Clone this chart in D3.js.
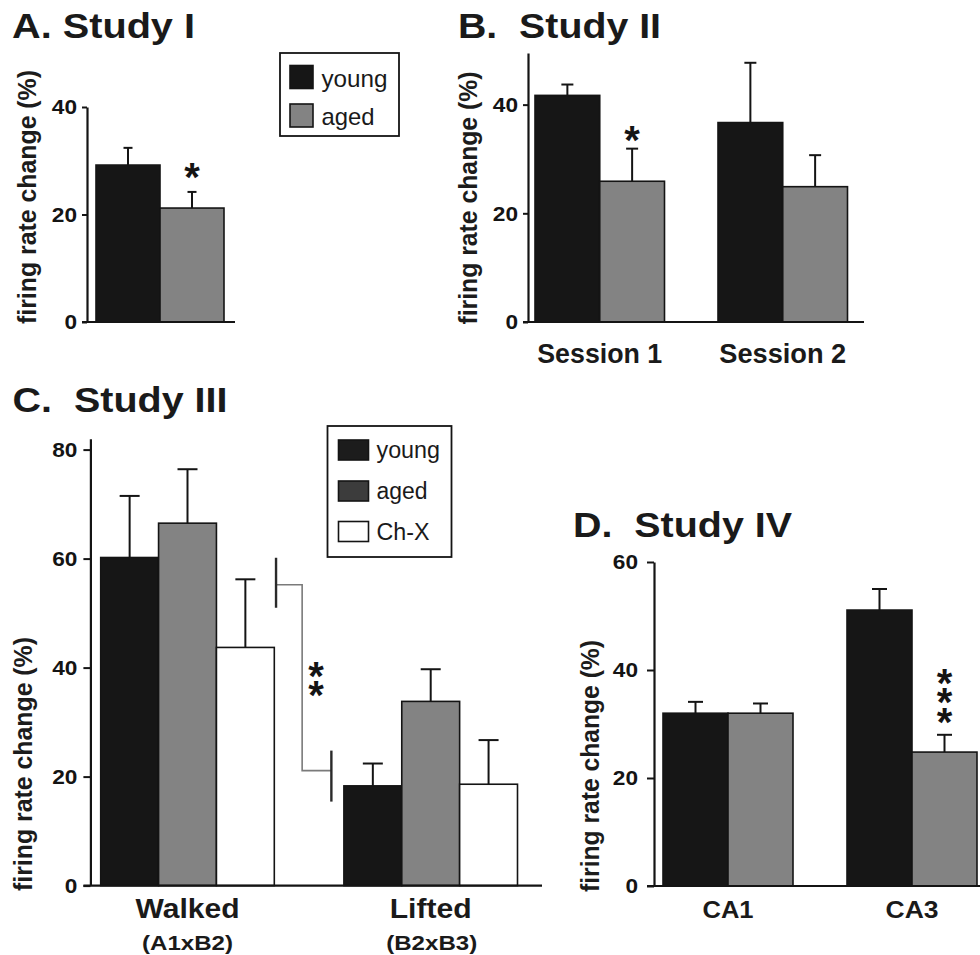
<!DOCTYPE html>
<html><head><meta charset="utf-8">
<script src="https://cdn.jsdelivr.net/npm/d3@7"></script>
<style>
body{margin:0;background:#fff}
svg{display:block}
text{font-family:"Liberation Sans",Arial,Helvetica,sans-serif;white-space:pre}
</style>
</head><body>
<svg id="chart" width="980" height="955"></svg>
<script>
// ---------- DATA ----------
const seriesAB = ["young", "aged"];
const seriesC = ["young", "aged", "Ch-X"];

// Panel A: Study I
const catsA = ["Study I"];
const youngA = [29.2];
const youngSemA = [3.2];
const agedA = [21.2];
const agedSemA = [3.0];
const ticksA = [0, 20, 40];

// Panel B: Study II
const catsB = ["Session 1", "Session 2"];
const youngB = [41.7, 36.7];
const youngSemB = [2.0, 11.0];
const agedB = [25.9, 24.9];
const agedSemB = [6.0, 5.8];
const ticksB = [0, 20, 40];

// Panel C: Study III
const catsC = ["Walked", "Lifted"];
const subCatsC = ["(A1xB2)", "(B2xB3)"];
const youngC = [60.2, 18.3];
const youngSemC = [11.3, 4.1];
const agedC = [66.5, 33.8];
const agedSemC = [9.9, 5.9];
const chxC = [43.7, 18.6];
const chxSemC = [12.5, 8.1];
const ticksC = [0, 20, 40, 60, 80];
const bracketC = [55.2, 21.1];   // levels of the significance bracket

// Panel D: Study IV
const catsD = ["CA1", "CA3"];
const youngD = [32.0, 51.1];
const youngSemD = [2.1, 3.9];
const agedD = [32.0, 24.8];
const agedSemD = [1.8, 3.2];
const ticksD = [0, 20, 40, 60];

const titles = ["A. Study I", "B.  Study II", "C.  Study III", "D.  Study IV"];
const yLabel = "firing rate change (%)";

// ---------- STYLE ----------
const colors = {young: "#161616", aged: "#838383", "Ch-X": "#ffffff"};
const legendColorsC = {young: "#1c1c1c", aged: "#3c3c3c", "Ch-X": "#ffffff"};
const ink = "#141414";
const FONT = '"Liberation Sans",Arial,Helvetica,sans-serif';

const svg = d3.select("#chart");

function rows(cats, series, vals, sems) {
  const out = [];
  cats.forEach((c, i) => series.forEach((s, j) => out.push({cat: c, s, v: vals[j][i], e: sems[j][i]})));
  return out;
}

function bandScale(domain, axisX, gap, bw, step) {
  const n = domain.length;
  const pi = 1 - bw / step;
  const po = gap / step;
  const r1 = axisX + step * (n - pi + 2 * po);
  return d3.scaleBand().domain(domain).range([axisX, r1]).paddingInner(pi).paddingOuter(po).align(0.5);
}

function panel(cfg) {
  const g = svg.append("g");
  const y = d3.scaleLinear().domain([0, cfg.yMax]).range([cfg.y0, cfg.yTop]);
  const xg = bandScale(cfg.cats, cfg.axisX, cfg.gap, cfg.bw, cfg.step);
  const xs = d3.scaleBand().domain(cfg.series).range([0, xg.bandwidth()]);
  const data = rows(cfg.cats, cfg.series, cfg.vals, cfg.sems);

  const eg = g.append("g").attr("stroke", ink).attr("stroke-width", 2).attr("fill", "none");
  data.forEach(d => {
    const cx = xg(d.cat) + xs(d.s) + xs.bandwidth() / 2;
    eg.append("line").attr("x1", cx).attr("x2", cx).attr("y1", y(d.v)).attr("y2", y(d.v + d.e));
    eg.append("line").attr("x1", cx - cfg.cap / 2).attr("x2", cx + cfg.cap / 2)
      .attr("y1", y(d.v + d.e)).attr("y2", y(d.v + d.e));
  });

  g.append("g").selectAll("rect").data(data).join("rect")
    .attr("x", d => xg(d.cat) + xs(d.s))
    .attr("y", d => y(d.v))
    .attr("width", xs.bandwidth())
    .attr("height", d => y(0) - y(d.v))
    .attr("fill", d => colors[d.s])
    .attr("stroke", ink).attr("stroke-width", 1.6);

  const ax = g.append("g").attr("transform", `translate(${cfg.axisX},0)`)
    .call(d3.axisLeft(y).tickValues(cfg.ticks).tickSize(cfg.tick).tickPadding(cfg.pad).tickSizeOuter(0));
  ax.select(".domain").attr("stroke", ink).attr("stroke-width", 2.2);
  ax.selectAll(".tick line").attr("stroke", ink).attr("stroke-width", 2);
  ax.selectAll(".tick text").attr("font-family", FONT).attr("font-size", 21).attr("font-weight", "bold").attr("fill", ink)
    .attr("textLength", d => String(d).length * 12.6).attr("lengthAdjust", "spacingAndGlyphs");

  g.append("line").attr("x1", cfg.axisX - cfg.tick).attr("x2", cfg.baseEnd)
    .attr("y1", y(0)).attr("y2", y(0)).attr("stroke", ink).attr("stroke-width", 2.2);

  g.append("text").attr("transform", `translate(${cfg.labX},${cfg.labY}) rotate(-90)`)
    .attr("text-anchor", "middle").attr("font-size", 26).attr("font-weight", "bold").attr("fill", "#1c1c1c")
    .attr("textLength", cfg.labLen).attr("lengthAdjust", "spacingAndGlyphs").text(yLabel);

  g.append("text").attr("x", cfg.titleX).attr("y", cfg.titleY)
    .attr("font-size", 35).attr("font-weight", "bold").attr("fill", "#1a1a1a")
    .attr("textLength", cfg.titleLen).attr("lengthAdjust", "spacingAndGlyphs").text(cfg.title);

  return {g, y, xg, xs};
}

// significance stars: a single text element; a vertical stack is laid out along a
// rotated baseline with each glyph counter-rotated so it stays upright.
function stars(g, x, yCenter, n, dy) {
  const fs = 40;
  const t = g.append("text").attr("font-size", fs).attr("font-weight", "bold").attr("fill", ink);
  if (n === 1) {
    t.attr("x", x).attr("y", yCenter + fs * 0.575).attr("text-anchor", "middle").text("*");
    return;
  }
  t.attr("transform", `translate(${x - 0.195 * fs},${yCenter + 0.575 * fs}) rotate(90)`)
    .attr("x", d3.range(n).map(i => i * dy).join(" "))
    .attr("y", 0)
    .attr("rotate", d3.range(n).map(() => -90).join(" "))
    .text("*".repeat(n));
}

function catLabels(p, cats, yBase, size, lens) {
  cats.forEach((c, i) => {
    p.g.append("text").attr("x", p.xg(c) + p.xg.bandwidth() / 2).attr("y", yBase)
      .attr("text-anchor", "middle").attr("font-size", size).attr("font-weight", "bold").attr("fill", "#1a1a1a")
      .attr("textLength", lens[i]).attr("lengthAdjust", "spacingAndGlyphs").text(c);
  });
}

function legend(x, y, w, h, items, cols, sw, rowYs, textX, size, lens) {
  const g = svg.append("g");
  g.append("rect").attr("x", x).attr("y", y).attr("width", w).attr("height", h)
    .attr("fill", "#fff").attr("stroke", ink).attr("stroke-width", 1.8);
  items.forEach((s, i) => {
    g.append("rect").attr("x", sw.x).attr("y", rowYs[i]).attr("width", sw.w).attr("height", sw.h)
      .attr("fill", cols[s]).attr("stroke", ink).attr("stroke-width", 1.6);
    g.append("text").attr("x", textX).attr("y", rowYs[i] + sw.h - 2).attr("font-size", size)
      .attr("fill", "#1a1a1a").attr("textLength", lens[i]).attr("lengthAdjust", "spacingAndGlyphs").text(s);
  });
}

// ---------- PANEL A ----------
const pA = panel({
  cats: catsA, series: seriesAB, vals: [youngA, agedA], sems: [youngSemA, agedSemA],
  yMax: 40, y0: 322, yTop: 107, ticks: ticksA, tick: 5, pad: 5,
  axisX: 87, gap: 9, bw: 128, step: 128, cap: 9, baseEnd: 235,
  labX: 36, labY: 197, labLen: 254,
  title: titles[0], titleX: 12, titleY: 38, titleLen: 183
});
stars(pA.g, pA.xg(catsA[0]) + pA.xs("aged") + pA.xs.bandwidth() / 2, pA.y(agedA[0] + agedSemA[0]) - 24, 1, 0);
legend(280, 53, 119, 83, seriesAB, colors, {x: 290, w: 23, h: 23}, [65.5, 104], 321.5, 24, [66, 53]);

// ---------- PANEL B ----------
const pB = panel({
  cats: catsB, series: seriesAB, vals: [youngB, agedB], sems: [youngSemB, agedSemB],
  yMax: 49.5, y0: 322, yTop: 53, ticks: ticksB, tick: 5, pad: 5,
  axisX: 528, gap: 7, bw: 129.5, step: 183, cap: 12, baseEnd: 864,
  labX: 477, labY: 198, labLen: 253,
  title: titles[1], titleX: 458, titleY: 38, titleLen: 203
});
stars(pB.g, pB.xg(catsB[0]) + pB.xs("aged") + pB.xs.bandwidth() / 2, pB.y(agedB[0] + agedSemB[0]) - 18, 1, 0);
catLabels(pB, catsB, 363, 28, [125, 127]);

// ---------- PANEL C ----------
const pC = panel({
  cats: catsC, series: seriesC, vals: [youngC, agedC, chxC], sems: [youngSemC, agedSemC, chxSemC],
  yMax: 82, y0: 885.6, yTop: 885.6 - 82 * 5.45, ticks: ticksC, tick: 7, pad: 6,
  axisX: 90.4, gap: 10.3, bw: 173.6, step: 243.2, cap: 20, baseEnd: 542,
  labX: 32, labY: 764, labLen: 254,
  title: titles[2], titleX: 12.5, titleY: 412, titleLen: 215
});
catLabels(pC, catsC, 918, 27, [104, 82]);
subCatsC.forEach((s, i) => {
  pC.g.append("text").attr("x", pC.xg(catsC[i]) + pC.xg.bandwidth() / 2 + (i ? 1 : 0)).attr("y", 950)
    .attr("text-anchor", "middle").attr("font-size", 21).attr("font-weight", "bold").attr("fill", "#1a1a1a")
    .attr("textLength", 91).attr("lengthAdjust", "spacingAndGlyphs").text(s);
});
{
  const e0 = pC.xg(catsC[0]) + pC.xg.bandwidth();
  const s1 = pC.xg(catsC[1]);
  const gapW = s1 - e0;
  const xl = e0 + gapW * 0.025, xm = e0 + gapW * 0.4, xr = e0 + gapW * 0.82;
  const yu = pC.y(bracketC[0]), yl = pC.y(bracketC[1]);
  pC.g.append("path").attr("d", `M${xl},${yu}H${xm}V${yl}H${xr}`)
    .attr("fill", "none").attr("stroke", "#7a7a7a").attr("stroke-width", 1.6);
  pC.g.append("line").attr("x1", xl).attr("x2", xl).attr("y1", yu - 27).attr("y2", yu + 23)
    .attr("stroke", "#2a2a2a").attr("stroke-width", 2.4);
  pC.g.append("line").attr("x1", xr).attr("x2", xr).attr("y1", yl - 20).attr("y2", yl + 31)
    .attr("stroke", "#2a2a2a").attr("stroke-width", 2.4);
  stars(pC.g, xm + 14, (yu + yl) / 2 - 11, 2, 19);
}
legend(327.5, 426, 124, 131, seriesC, legendColorsC, {x: 338.5, w: 30, h: 20}, [440, 481, 521.5], 376.5, 23.5, [63.5, 51, 53]);

// ---------- PANEL D ----------
const pD = panel({
  cats: catsD, series: seriesAB, vals: [youngD, agedD], sems: [youngSemD, agedSemD],
  yMax: 60, y0: 886, yTop: 562, ticks: ticksD, tick: 7, pad: 9,
  axisX: 654, gap: 9, bw: 130, step: 184, cap: 15, baseEnd: 980,
  labX: 599, labY: 766, labLen: 252,
  title: titles[3], titleX: 573, titleY: 537, titleLen: 219
});
stars(pD.g, pD.xg(catsD[1]) + pD.xs("aged") + pD.xs.bandwidth() / 2, pD.y(agedD[1] + agedSemD[1]) - 61, 3, 19.5);
catLabels(pD, catsD, 918, 24, [51, 53]);
</script>
</body></html>
